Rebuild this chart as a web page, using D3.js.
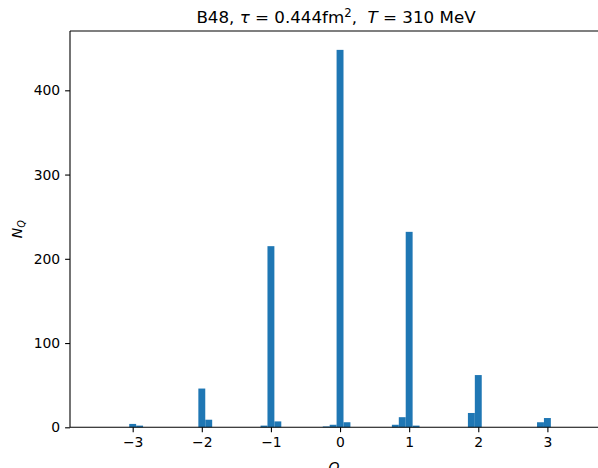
<!DOCTYPE html>
<html>
<head>
<meta charset="utf-8">
<script src="https://cdn.jsdelivr.net/npm/d3@7"></script>
<style>
  html, body { margin: 0; padding: 0; background: #fff; }
  svg text { font-family: "DejaVu Sans", sans-serif; fill: #000; }
</style>
</head>
<body>
<svg id="chart" width="598" height="468"></svg>
<script>
// Data
const binCenters = [-3.0, -2.9, -2.0, -1.9, -1.1, -1.0, -0.9, -0.2, -0.1, 0.0, 0.1, 0.8, 0.9, 1.0, 1.1, 1.9, 2.0, 2.9, 3.0];
const counts     = [4, 2, 46, 9, 2, 215, 7, 1, 3, 448, 6, 3, 12, 232, 2, 17, 62, 6, 11];
const binWidth = 0.1;
const xTicks = [-3, -2, -1, 0, 1, 2, 3];
const yTicks = [0, 100, 200, 300, 400];

const svg = d3.select("#chart");
const mLeft = 70, mRight = 602, mTop = 31, mBottom = 427.3;

const x = d3.scaleLinear().domain([-3.907, 3.79]).range([mLeft, mRight]);
const y = d3.scaleLinear().domain([0, 448 * 1.05]).range([mBottom, mTop]);

const bins = binCenters.map((c, i) => ({ c, n: counts[i] }));

svg.append("g").selectAll("rect").data(bins).join("rect")
  .attr("x", d => x(d.c - binWidth / 2))
  .attr("width", d => x(d.c + binWidth / 2) - x(d.c - binWidth / 2))
  .attr("y", d => y(d.n))
  .attr("height", d => y(0) - y(d.n))
  .attr("fill", "#1f77b4");

// Axes
const xAxis = d3.axisBottom(x).tickValues(xTicks).tickSize(4.9).tickPadding(4.9)
  .tickFormat(d3.format("d"));
const gx = svg.append("g").attr("transform", `translate(0,${mBottom})`).call(xAxis);
gx.select(".domain").remove();
gx.selectAll("line").attr("stroke", "#000").attr("stroke-width", 1.1);
gx.selectAll("text").attr("font-size", "13.9px").attr("font-family", "DejaVu Sans");

const yAxis = d3.axisLeft(y).tickValues(yTicks).tickSize(4.9).tickPadding(4.9)
  .tickFormat(d3.format("d"));
const gy = svg.append("g").attr("transform", `translate(${mLeft},0)`).call(yAxis);
gy.select(".domain").remove();
gy.selectAll("line").attr("stroke", "#000").attr("stroke-width", 1.1);
gy.selectAll("text").attr("font-size", "13.9px").attr("font-family", "DejaVu Sans");

// Spines
const sp = svg.append("g").attr("stroke", "#000").attr("stroke-width", 1.1).attr("fill", "none");
sp.append("line").attr("x1", mLeft).attr("x2", mLeft).attr("y1", mTop).attr("y2", mBottom);
sp.append("line").attr("x1", mLeft).attr("x2", mRight).attr("y1", mBottom).attr("y2", mBottom);
sp.append("line").attr("x1", mLeft).attr("x2", mRight).attr("y1", mTop).attr("y2", mTop);
sp.append("line").attr("x1", mRight).attr("x2", mRight).attr("y1", mTop).attr("y2", mBottom);

// Title
const title = svg.append("text")
  .attr("x", (mLeft + mRight) / 2).attr("y", 22.5)
  .attr("text-anchor", "middle").attr("font-size", "16.7px")
  .style("white-space", "pre");
title.append("tspan").text("B48, ");
title.append("tspan").attr("font-style", "italic").text("τ");
title.append("tspan").text("\u00a0=\u00a00.444fm");
title.append("tspan").attr("font-size", "11.7px").attr("dy", -6).text("2");
title.append("tspan").attr("dy", 6).text(",\u00a0\u00a0");
title.append("tspan").attr("font-style", "italic").text("T");
title.append("tspan").text("\u00a0=\u00a0310 MeV");

// X label
svg.append("text").attr("x", (mLeft + mRight) / 2 - 2).attr("y", 472)
  .attr("text-anchor", "middle").attr("font-size", "13.9px").attr("font-style", "italic")
  .text("Q");

// Y label
const yl = svg.append("text")
  .attr("transform", `translate(22,${(mTop + mBottom) / 2}) rotate(-90)`)
  .attr("text-anchor", "middle").attr("font-size", "13.9px");
yl.append("tspan").attr("font-style", "italic").text("N");
yl.append("tspan").attr("font-style", "italic").attr("font-size", "9.7px").attr("dy", 2.5).text("Q");
</script>
</body>
</html>
